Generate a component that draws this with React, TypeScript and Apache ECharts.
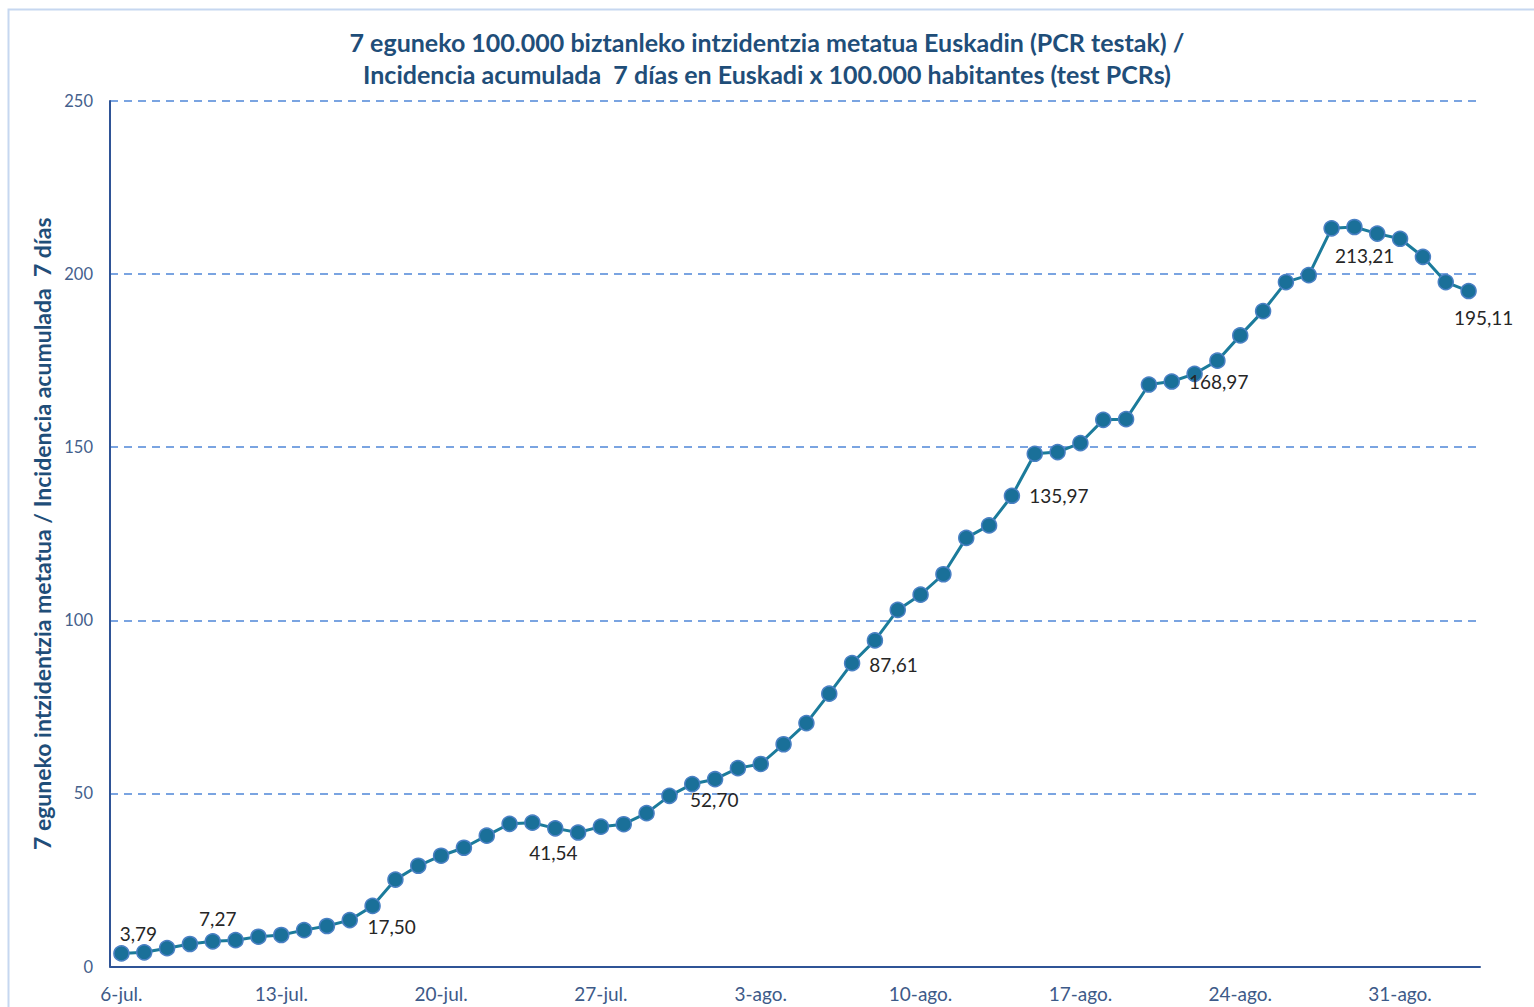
import React, { useEffect, useRef } from "react";
import * as echarts from "echarts";

const categories: string[] = [
  "6-jul.", "7-jul.", "8-jul.", "9-jul.", "10-jul.", "11-jul.", "12-jul.",
  "13-jul.", "14-jul.", "15-jul.", "16-jul.", "17-jul.", "18-jul.", "19-jul.",
  "20-jul.", "21-jul.", "22-jul.", "23-jul.", "24-jul.", "25-jul.", "26-jul.",
  "27-jul.", "28-jul.", "29-jul.", "30-jul.", "31-jul.", "1-ago.", "2-ago.",
  "3-ago.", "4-ago.", "5-ago.", "6-ago.", "7-ago.", "8-ago.", "9-ago.",
  "10-ago.", "11-ago.", "12-ago.", "13-ago.", "14-ago.", "15-ago.", "16-ago.",
  "17-ago.", "18-ago.", "19-ago.", "20-ago.", "21-ago.", "22-ago.", "23-ago.",
  "24-ago.", "25-ago.", "26-ago.", "27-ago.", "28-ago.", "29-ago.", "30-ago.",
  "31-ago.", "1-sep.", "2-sep.", "3-sep.",
];

const incidence: number[] = [
  3.79, 4.1, 5.3, 6.5, 7.27, 7.6, 8.6,
  9.1, 10.5, 11.7, 13.4, 17.5, 25.1, 29.1,
  32.0, 34.3, 37.8, 41.2, 41.54, 39.9, 38.7,
  40.4, 41.1, 44.3, 49.3, 52.7, 54.1, 57.3,
  58.5, 64.2, 70.3, 78.8, 87.61, 94.2, 103.0,
  107.4, 113.3, 123.8, 127.4, 135.97, 148.1, 148.6,
  151.2, 157.9, 158.1, 168.1, 168.97, 171.2, 175.0,
  182.3, 189.3, 197.7, 199.7, 213.21, 213.6, 211.7,
  210.2, 205.0, 197.7, 195.11,
];

// index of labelled points and where their label sits
const labelled: { index: number; position: string; offset: [number, number] }[] = [
  { index: 0, position: "top", offset: [17, 3] },
  { index: 4, position: "top", offset: [5, 0] },
  { index: 11, position: "bottom", offset: [19, -2] },
  { index: 18, position: "bottom", offset: [21, 7] },
  { index: 25, position: "bottom", offset: [22, -7] },
  { index: 32, position: "right", offset: [4, 1] },
  { index: 39, position: "right", offset: [4, 0] },
  { index: 46, position: "right", offset: [4, 0] },
  { index: 53, position: "bottom", offset: [33, 4] },
  { index: 59, position: "bottom", offset: [15, 4] },
];

const titleLine1 = "7 eguneko 100.000 biztanleko intzidentzia metatua Euskadin (PCR testak) /";
const titleLine2 = "Incidencia acumulada  7 días en Euskadi x 100.000 habitantes (test PCRs)";
const yAxisTitle = "7 eguneko intzidentzia metatua / Incidencia acumulada  7 días";

const fmt = (v: number) => v.toFixed(2).replace(".", ",");

export default function App() {
  const ref = useRef<HTMLDivElement>(null);
  useEffect(() => {
    if (!ref.current) return;
    const chart = echarts.init(ref.current, undefined, { renderer: "svg" });
    const seriesData = incidence.map((v, i) => {
      const l = labelled.find((x) => x.index === i);
      if (!l) return v;
      return {
        value: v,
        label: {
          show: true,
          position: l.position,
          offset: l.offset,
          formatter: () => fmt(v),
          color: "#262626",
          fontSize: 19,
          fontFamily: "Lato",
        },
      };
    });
    const titleStyle = {
      color: "#1f4e79",
      fontSize: 25,
      fontWeight: "bold",
      fontFamily: "Lato",
      lineHeight: 32,
    };
    chart.setOption({
      animation: false,
      backgroundColor: "#ffffff",
      title: [
        { text: titleLine1, left: "center", top: 26, padding: 0, textStyle: titleStyle },
        { text: titleLine2, left: "center", top: 58, padding: 0, textStyle: titleStyle },
      ],
      graphic: [
        {
          type: "rect",
          shape: { x: 8.5, y: 9.5, width: 1700, height: 1200 },
          style: { fill: "none", stroke: "#c6d7f0", lineWidth: 2 },
          silent: true,
          z: -10,
        },
      ],
      grid: { left: 110, right: 54, top: 101, bottom: 40.5 },
      xAxis: {
        type: "category",
        data: categories,
        boundaryGap: true,
        axisLine: { show: true, lineStyle: { color: "#2f5496", width: 2 } },
        axisTick: { show: false },
        axisLabel: {
          interval: 6,
          margin: 17,
          color: "#3d5a88",
          fontSize: 19,
          fontFamily: "Lato",
        },
        splitLine: { show: false },
      },
      yAxis: {
        type: "value",
        min: 0,
        max: 250,
        interval: 50,
        name: yAxisTitle,
        nameLocation: "middle",
        nameGap: 55,
        nameTextStyle: {
          color: "#1f4e79",
          fontSize: 23,
          fontWeight: "bold",
          fontFamily: "Lato",
        },
        axisLine: { show: true, lineStyle: { color: "#2f5496", width: 2 } },
        axisTick: { show: false },
        axisLabel: {
          margin: 17,
          color: "#44608c",
          fontSize: 16.5,
          fontFamily: "Lato",
        },
        splitLine: {
          show: true,
          lineStyle: { color: "#4f86d8", width: 1.5, type: [8, 6] },
        },
      },
      series: [
        {
          type: "line",
          data: seriesData,
          symbol: "circle",
          symbolSize: 15,
          lineStyle: { color: "#1b7b9b", width: 3 },
          itemStyle: { color: "#1a7099", borderColor: "#4a80c4", borderWidth: 1.5 },
          label: { show: false },
          z: 3,
        },
      ],
    });
    return () => chart.dispose();
  }, []);
  return (
    <div
      ref={ref}
      style={{ position: "absolute", left: 0, top: 0, width: 1534, height: 1007 }}
    />
  );
}
